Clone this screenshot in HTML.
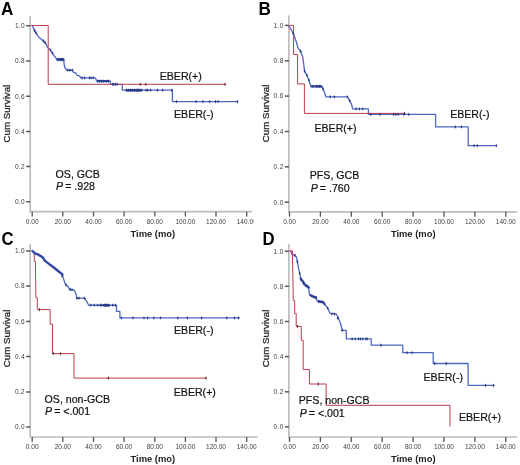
<!DOCTYPE html>
<html><head><meta charset="utf-8"><style>
html,body{margin:0;padding:0;background:#fff;width:520px;height:465px;overflow:hidden}
svg{display:block;filter:blur(0.5px)}
text{font-family:"Liberation Sans", sans-serif}
</style></head><body>
<svg width="520" height="465" viewBox="0 0 520 465">
<rect width="520" height="465" fill="#fff"/>
<defs>
<clipPath id="cA"><rect x="0" y="0" width="253.5" height="240"/></clipPath>
<clipPath id="cC"><rect x="0" y="232" width="258.5" height="233"/></clipPath>
</defs>

<g id="pA" clip-path="url(#cA)">
<text transform="translate(1.0,14.7) scale(0.95,1)" font-size="18" font-weight="bold" fill="#000">A</text>
<line x1="30.2" y1="16.2" x2="30.2" y2="211.7" stroke="#bcbcbc" stroke-width="1.7"/>
<line x1="29.5" y1="211.7" x2="251.9" y2="211.7" stroke="#bcbcbc" stroke-width="1.7"/>
<line x1="26.2" y1="201.8" x2="30.2" y2="201.8" stroke="#555" stroke-width="1.5"/>
<text x="25.0" y="204.1" font-size="6.5" letter-spacing="0.35" fill="#404040" text-anchor="end">0.0</text>
<line x1="26.2" y1="166.6" x2="30.2" y2="166.6" stroke="#555" stroke-width="1.5"/>
<text x="25.0" y="168.9" font-size="6.5" letter-spacing="0.35" fill="#404040" text-anchor="end">0.2</text>
<line x1="26.2" y1="131.4" x2="30.2" y2="131.4" stroke="#555" stroke-width="1.5"/>
<text x="25.0" y="133.7" font-size="6.5" letter-spacing="0.35" fill="#404040" text-anchor="end">0.4</text>
<line x1="26.2" y1="96.2" x2="30.2" y2="96.2" stroke="#555" stroke-width="1.5"/>
<text x="25.0" y="98.5" font-size="6.5" letter-spacing="0.35" fill="#404040" text-anchor="end">0.6</text>
<line x1="26.2" y1="61.0" x2="30.2" y2="61.0" stroke="#555" stroke-width="1.5"/>
<text x="25.0" y="63.3" font-size="6.5" letter-spacing="0.35" fill="#404040" text-anchor="end">0.8</text>
<line x1="26.2" y1="25.8" x2="30.2" y2="25.8" stroke="#555" stroke-width="1.5"/>
<text x="25.0" y="28.1" font-size="6.5" letter-spacing="0.35" fill="#404040" text-anchor="end">1.0</text>
<line x1="32.2" y1="211.7" x2="32.2" y2="216.6" stroke="#555" stroke-width="1.3"/>
<text x="32.2" y="223.6" font-size="6.5" fill="#404040" text-anchor="middle">0.00</text>
<line x1="62.8" y1="211.7" x2="62.8" y2="216.6" stroke="#555" stroke-width="1.3"/>
<text x="62.8" y="223.6" font-size="6.5" fill="#404040" text-anchor="middle">20.00</text>
<line x1="93.5" y1="211.7" x2="93.5" y2="216.6" stroke="#555" stroke-width="1.3"/>
<text x="93.5" y="223.6" font-size="6.5" fill="#404040" text-anchor="middle">40.00</text>
<line x1="124.1" y1="211.7" x2="124.1" y2="216.6" stroke="#555" stroke-width="1.3"/>
<text x="124.1" y="223.6" font-size="6.5" fill="#404040" text-anchor="middle">60.00</text>
<line x1="154.8" y1="211.7" x2="154.8" y2="216.6" stroke="#555" stroke-width="1.3"/>
<text x="154.8" y="223.6" font-size="6.5" fill="#404040" text-anchor="middle">80.00</text>
<line x1="185.4" y1="211.7" x2="185.4" y2="216.6" stroke="#555" stroke-width="1.3"/>
<text x="185.4" y="223.6" font-size="6.5" fill="#404040" text-anchor="middle">100.00</text>
<line x1="216.0" y1="211.7" x2="216.0" y2="216.6" stroke="#555" stroke-width="1.3"/>
<text x="216.0" y="223.6" font-size="6.5" fill="#404040" text-anchor="middle">120.00</text>
<line x1="246.7" y1="211.7" x2="246.7" y2="216.6" stroke="#555" stroke-width="1.3"/>
<text x="246.7" y="223.6" font-size="6.5" fill="#404040" text-anchor="middle">140.00</text>
<text x="152.8" y="236.5" font-size="9.4" font-weight="bold" fill="#222" text-anchor="middle">Time (mo)</text>
<text transform="translate(9.5,113.6) rotate(-90)" x="0" y="0" font-size="9.7" fill="#2a2a2a" stroke="#2a2a2a" stroke-width="0.3" text-anchor="middle">Cum Survival</text>
<polyline points="32.2,25.2 33.9,29.3 36.0,32.8 38.6,37.1 43.3,40.9 45.5,43.1 47.6,47.4 50.2,50.0 52.4,53.4 55.0,56.8 57.0,59.5 63.8,59.5 64.2,65.0 65.3,68.5 66.6,70.2 72.6,70.2 73.5,72.4 76.0,73.2 77.0,75.4 79.5,75.8 80.8,77.9 95.6,77.9 96.5,81.1 110.4,81.1 110.6,84.3 122.3,84.3 122.3,90.2 172.4,90.2 172.4,101.6 237.6,101.6" fill="none" stroke="#4d68c4" stroke-width="1.3" stroke-linejoin="round"/>
<polyline points="30.9,25.5 48.2,25.5 48.2,84.3 225.0,84.3" fill="none" stroke="#bb3c4c" stroke-width="1.0"/>
<polyline points="57.5,59.5 63.3,59.5" fill="none" stroke="#3347a4" stroke-width="2.4" stroke-linejoin="round" stroke-linecap="round"/>
<polyline points="126.5,90.2 141.5,90.2" fill="none" stroke="#3347a4" stroke-width="2.4" stroke-linejoin="round" stroke-linecap="round"/>
<polyline points="98.0,81.1 108.5,81.1" fill="none" stroke="#3347a4" stroke-width="2.4" stroke-linejoin="round" stroke-linecap="round"/>
<path d="M140.2,82.4L141.1,84.3L140.2,86.2L139.3,84.3Z" fill="#6a2a38"/>
<path d="M145.8,82.4L146.7,84.3L145.8,86.2L144.9,84.3Z" fill="#6a2a38"/>
<path d="M225.0,82.4L225.9,84.3L225.0,86.2L224.1,84.3Z" fill="#6a2a38"/>
<path d="M34.5,28.6L35.4,30.5L34.5,32.4L33.6,30.5Z" fill="#2c3a86"/>
<path d="M36.0,30.9L36.9,32.8L36.0,34.7L35.1,32.8Z" fill="#2c3a86"/>
<path d="M43.5,39.1L44.4,41.0L43.5,42.9L42.6,41.0Z" fill="#2c3a86"/>
<path d="M45.0,40.6L45.9,42.5L45.0,44.4L44.1,42.5Z" fill="#2c3a86"/>
<path d="M50.5,48.1L51.4,50.0L50.5,51.9L49.6,50.0Z" fill="#2c3a86"/>
<path d="M52.5,51.1L53.4,53.0L52.5,54.9L51.6,53.0Z" fill="#2c3a86"/>
<path d="M58.0,57.6L58.9,59.5L58.0,61.4L57.1,59.5Z" fill="#2c3a86"/>
<path d="M60.0,57.6L60.9,59.5L60.0,61.4L59.1,59.5Z" fill="#2c3a86"/>
<path d="M61.5,57.6L62.4,59.5L61.5,61.4L60.6,59.5Z" fill="#2c3a86"/>
<path d="M63.0,57.6L63.9,59.5L63.0,61.4L62.1,59.5Z" fill="#2c3a86"/>
<path d="M67.9,68.3L68.8,70.2L67.9,72.1L67.0,70.2Z" fill="#2c3a86"/>
<path d="M70.0,68.3L70.9,70.2L70.0,72.1L69.1,70.2Z" fill="#2c3a86"/>
<path d="M72.2,68.3L73.1,70.2L72.2,72.1L71.3,70.2Z" fill="#2c3a86"/>
<path d="M82.1,76.0L83.0,77.9L82.1,79.8L81.2,77.9Z" fill="#2c3a86"/>
<path d="M84.7,76.0L85.6,77.9L84.7,79.8L83.8,77.9Z" fill="#2c3a86"/>
<path d="M89.4,76.0L90.3,77.9L89.4,79.8L88.5,77.9Z" fill="#2c3a86"/>
<path d="M91.1,76.0L92.0,77.9L91.1,79.8L90.2,77.9Z" fill="#2c3a86"/>
<path d="M93.3,76.0L94.2,77.9L93.3,79.8L92.4,77.9Z" fill="#2c3a86"/>
<path d="M97.7,79.2L98.6,81.1L97.7,83.0L96.8,81.1Z" fill="#2c3a86"/>
<path d="M99.6,79.2L100.5,81.1L99.6,83.0L98.7,81.1Z" fill="#2c3a86"/>
<path d="M101.5,79.2L102.4,81.1L101.5,83.0L100.6,81.1Z" fill="#2c3a86"/>
<path d="M103.8,79.2L104.7,81.1L103.8,83.0L102.9,81.1Z" fill="#2c3a86"/>
<path d="M106.2,79.2L107.1,81.1L106.2,83.0L105.3,81.1Z" fill="#2c3a86"/>
<path d="M108.5,79.2L109.4,81.1L108.5,83.0L107.6,81.1Z" fill="#2c3a86"/>
<path d="M112.7,82.4L113.6,84.3L112.7,86.2L111.8,84.3Z" fill="#2c3a86"/>
<path d="M113.8,82.4L114.7,84.3L113.8,86.2L112.9,84.3Z" fill="#2c3a86"/>
<path d="M115.4,82.4L116.3,84.3L115.4,86.2L114.5,84.3Z" fill="#2c3a86"/>
<path d="M117.0,82.4L117.9,84.3L117.0,86.2L116.1,84.3Z" fill="#2c3a86"/>
<path d="M126.9,88.3L127.8,90.2L126.9,92.1L126.0,90.2Z" fill="#2c3a86"/>
<path d="M128.7,88.3L129.6,90.2L128.7,92.1L127.8,90.2Z" fill="#2c3a86"/>
<path d="M130.4,88.3L131.3,90.2L130.4,92.1L129.5,90.2Z" fill="#2c3a86"/>
<path d="M132.1,88.3L133.0,90.2L132.1,92.1L131.2,90.2Z" fill="#2c3a86"/>
<path d="M134.4,88.3L135.3,90.2L134.4,92.1L133.5,90.2Z" fill="#2c3a86"/>
<path d="M136.1,88.3L137.0,90.2L136.1,92.1L135.2,90.2Z" fill="#2c3a86"/>
<path d="M137.3,88.3L138.2,90.2L137.3,92.1L136.4,90.2Z" fill="#2c3a86"/>
<path d="M138.5,88.3L139.4,90.2L138.5,92.1L137.6,90.2Z" fill="#2c3a86"/>
<path d="M139.6,88.3L140.5,90.2L139.6,92.1L138.7,90.2Z" fill="#2c3a86"/>
<path d="M141.3,88.3L142.2,90.2L141.3,92.1L140.4,90.2Z" fill="#2c3a86"/>
<path d="M146.0,88.3L146.9,90.2L146.0,92.1L145.1,90.2Z" fill="#2c3a86"/>
<path d="M147.7,88.3L148.6,90.2L147.7,92.1L146.8,90.2Z" fill="#2c3a86"/>
<path d="M150.6,88.3L151.5,90.2L150.6,92.1L149.7,90.2Z" fill="#2c3a86"/>
<path d="M157.5,88.3L158.4,90.2L157.5,92.1L156.6,90.2Z" fill="#2c3a86"/>
<path d="M162.7,88.3L163.6,90.2L162.7,92.1L161.8,90.2Z" fill="#2c3a86"/>
<path d="M171.9,88.3L172.8,90.2L171.9,92.1L171.0,90.2Z" fill="#2c3a86"/>
<path d="M176.4,99.7L177.3,101.6L176.4,103.5L175.5,101.6Z" fill="#2c3a86"/>
<path d="M196.1,99.7L197.0,101.6L196.1,103.5L195.2,101.6Z" fill="#2c3a86"/>
<path d="M202.9,99.7L203.8,101.6L202.9,103.5L202.0,101.6Z" fill="#2c3a86"/>
<path d="M209.7,99.7L210.6,101.6L209.7,103.5L208.8,101.6Z" fill="#2c3a86"/>
<path d="M215.6,99.7L216.5,101.6L215.6,103.5L214.7,101.6Z" fill="#2c3a86"/>
<path d="M218.1,99.7L219.0,101.6L218.1,103.5L217.2,101.6Z" fill="#2c3a86"/>
<path d="M237.4,99.7L238.3,101.6L237.4,103.5L236.5,101.6Z" fill="#2c3a86"/>
<text x="159.71" y="80.10" font-size="10.6" fill="#111" stroke="#111" stroke-width="0.2">EBER(+)</text>
<text x="174.01" y="117.90" font-size="10.6" fill="#111" stroke="#111" stroke-width="0.2">EBER(-)</text>
<text x="55.60" y="177.60" font-size="10.6" fill="#111" stroke="#111" stroke-width="0.2">OS, GCB</text>
<text x="55.40" y="189.80" font-size="10.6" fill="#111" stroke="#111" stroke-width="0.2"><tspan font-style="italic" dx="0.7">P</tspan><tspan dx="-0.9"> = .928</tspan></text>
</g>
<g id="pB">
<text transform="translate(258.5,14.8) scale(0.95,1)" font-size="18" font-weight="bold" fill="#000">B</text>
<line x1="288.9" y1="15.4" x2="288.9" y2="211.8" stroke="#bcbcbc" stroke-width="1.7"/>
<line x1="288.2" y1="211.8" x2="516.9" y2="211.8" stroke="#bcbcbc" stroke-width="1.7"/>
<line x1="284.9" y1="202.2" x2="288.9" y2="202.2" stroke="#555" stroke-width="1.5"/>
<text x="283.7" y="204.5" font-size="6.5" letter-spacing="0.35" fill="#404040" text-anchor="end">0.0</text>
<line x1="284.9" y1="166.8" x2="288.9" y2="166.8" stroke="#555" stroke-width="1.5"/>
<text x="283.7" y="169.1" font-size="6.5" letter-spacing="0.35" fill="#404040" text-anchor="end">0.2</text>
<line x1="284.9" y1="131.5" x2="288.9" y2="131.5" stroke="#555" stroke-width="1.5"/>
<text x="283.7" y="133.8" font-size="6.5" letter-spacing="0.35" fill="#404040" text-anchor="end">0.4</text>
<line x1="284.9" y1="96.1" x2="288.9" y2="96.1" stroke="#555" stroke-width="1.5"/>
<text x="283.7" y="98.4" font-size="6.5" letter-spacing="0.35" fill="#404040" text-anchor="end">0.6</text>
<line x1="284.9" y1="60.8" x2="288.9" y2="60.8" stroke="#555" stroke-width="1.5"/>
<text x="283.7" y="63.1" font-size="6.5" letter-spacing="0.35" fill="#404040" text-anchor="end">0.8</text>
<line x1="284.9" y1="25.4" x2="288.9" y2="25.4" stroke="#555" stroke-width="1.5"/>
<text x="283.7" y="27.7" font-size="6.5" letter-spacing="0.35" fill="#404040" text-anchor="end">1.0</text>
<line x1="289.5" y1="211.8" x2="289.5" y2="216.70000000000002" stroke="#555" stroke-width="1.3"/>
<text x="289.5" y="223.6" font-size="6.5" fill="#404040" text-anchor="middle">0.00</text>
<line x1="320.4" y1="211.8" x2="320.4" y2="216.70000000000002" stroke="#555" stroke-width="1.3"/>
<text x="320.4" y="223.6" font-size="6.5" fill="#404040" text-anchor="middle">20.00</text>
<line x1="351.3" y1="211.8" x2="351.3" y2="216.70000000000002" stroke="#555" stroke-width="1.3"/>
<text x="351.3" y="223.6" font-size="6.5" fill="#404040" text-anchor="middle">40.00</text>
<line x1="382.2" y1="211.8" x2="382.2" y2="216.70000000000002" stroke="#555" stroke-width="1.3"/>
<text x="382.2" y="223.6" font-size="6.5" fill="#404040" text-anchor="middle">60.00</text>
<line x1="413.1" y1="211.8" x2="413.1" y2="216.70000000000002" stroke="#555" stroke-width="1.3"/>
<text x="413.1" y="223.6" font-size="6.5" fill="#404040" text-anchor="middle">80.00</text>
<line x1="444.0" y1="211.8" x2="444.0" y2="216.70000000000002" stroke="#555" stroke-width="1.3"/>
<text x="444.0" y="223.6" font-size="6.5" fill="#404040" text-anchor="middle">100.00</text>
<line x1="474.9" y1="211.8" x2="474.9" y2="216.70000000000002" stroke="#555" stroke-width="1.3"/>
<text x="474.9" y="223.6" font-size="6.5" fill="#404040" text-anchor="middle">120.00</text>
<line x1="505.8" y1="211.8" x2="505.8" y2="216.70000000000002" stroke="#555" stroke-width="1.3"/>
<text x="505.8" y="223.6" font-size="6.5" fill="#404040" text-anchor="middle">140.00</text>
<text x="413.2" y="236.5" font-size="9.4" font-weight="bold" fill="#222" text-anchor="middle">Time (mo)</text>
<text transform="translate(269.3,113.4) rotate(-90)" x="0" y="0" font-size="9.7" fill="#2a2a2a" stroke="#2a2a2a" stroke-width="0.3" text-anchor="middle">Cum Survival</text>
<polyline points="289.4,25.4 289.4,27.2 291.2,29.7 293.3,33.6 294.6,37.1 296.3,41.8 298.0,47.8 300.6,51.2 302.8,57.3 304.6,71.1 307.0,75.4 308.9,80.1 310.8,86.4 322.1,86.4 323.1,89.1 325.0,93.8 325.9,96.8 347.3,96.8 349.7,100.6 351.6,104.4 352.6,108.9 368.4,108.9 368.4,114.4 435.6,114.4 435.6,126.9 468.2,126.9 468.2,145.7 496.5,145.7" fill="none" stroke="#4d68c4" stroke-width="1.3" stroke-linejoin="round"/>
<polyline points="289.9,25.4 293.6,25.4 293.6,54.5 297.6,54.5 297.6,83.9 304.4,83.9 304.4,113.4 404.5,113.4" fill="none" stroke="#bb3c4c" stroke-width="1.0"/>
<polyline points="311.5,86.4 321.0,86.4" fill="none" stroke="#3347a4" stroke-width="2.4" stroke-linejoin="round" stroke-linecap="round"/>
<path d="M404.5,111.5L405.4,113.4L404.5,115.3L403.6,113.4Z" fill="#6a2a38"/>
<path d="M293.3,31.7L294.2,33.6L293.3,35.5L292.4,33.6Z" fill="#2c3a86"/>
<path d="M300.6,49.3L301.5,51.2L300.6,53.1L299.7,51.2Z" fill="#2c3a86"/>
<path d="M304.6,69.2L305.5,71.1L304.6,73.0L303.7,71.1Z" fill="#2c3a86"/>
<path d="M307.0,73.5L307.9,75.4L307.0,77.3L306.1,75.4Z" fill="#2c3a86"/>
<path d="M308.9,78.2L309.8,80.1L308.9,82.0L308.0,80.1Z" fill="#2c3a86"/>
<path d="M312.9,84.5L313.8,86.4L312.9,88.3L312.0,86.4Z" fill="#2c3a86"/>
<path d="M316.5,84.5L317.4,86.4L316.5,88.3L315.6,86.4Z" fill="#2c3a86"/>
<path d="M318.0,84.5L318.9,86.4L318.0,88.3L317.1,86.4Z" fill="#2c3a86"/>
<path d="M319.5,84.5L320.4,86.4L319.5,88.3L318.6,86.4Z" fill="#2c3a86"/>
<path d="M321.0,84.5L321.9,86.4L321.0,88.3L320.1,86.4Z" fill="#2c3a86"/>
<path d="M323.1,87.2L324.0,89.1L323.1,91.0L322.2,89.1Z" fill="#2c3a86"/>
<path d="M330.2,94.9L331.1,96.8L330.2,98.7L329.3,96.8Z" fill="#2c3a86"/>
<path d="M334.4,94.9L335.3,96.8L334.4,98.7L333.5,96.8Z" fill="#2c3a86"/>
<path d="M347.3,94.9L348.2,96.8L347.3,98.7L346.4,96.8Z" fill="#2c3a86"/>
<path d="M349.7,98.7L350.6,100.6L349.7,102.5L348.8,100.6Z" fill="#2c3a86"/>
<path d="M356.0,107.0L356.9,108.9L356.0,110.8L355.1,108.9Z" fill="#2c3a86"/>
<path d="M359.3,107.0L360.2,108.9L359.3,110.8L358.4,108.9Z" fill="#2c3a86"/>
<path d="M362.7,107.0L363.6,108.9L362.7,110.8L361.8,108.9Z" fill="#2c3a86"/>
<path d="M370.8,112.5L371.7,114.4L370.8,116.3L369.9,114.4Z" fill="#2c3a86"/>
<path d="M379.9,112.5L380.8,114.4L379.9,116.3L379.0,114.4Z" fill="#2c3a86"/>
<path d="M393.4,112.5L394.3,114.4L393.4,116.3L392.5,114.4Z" fill="#2c3a86"/>
<path d="M395.8,112.5L396.7,114.4L395.8,116.3L394.9,114.4Z" fill="#2c3a86"/>
<path d="M398.2,112.5L399.1,114.4L398.2,116.3L397.3,114.4Z" fill="#2c3a86"/>
<path d="M403.9,112.5L404.8,114.4L403.9,116.3L403.0,114.4Z" fill="#2c3a86"/>
<path d="M408.8,112.5L409.7,114.4L408.8,116.3L407.9,114.4Z" fill="#2c3a86"/>
<path d="M455.2,125.0L456.1,126.9L455.2,128.8L454.3,126.9Z" fill="#2c3a86"/>
<path d="M461.5,125.0L462.4,126.9L461.5,128.8L460.6,126.9Z" fill="#2c3a86"/>
<path d="M474.0,143.8L474.9,145.7L474.0,147.6L473.1,145.7Z" fill="#2c3a86"/>
<path d="M477.4,143.8L478.3,145.7L477.4,147.6L476.5,145.7Z" fill="#2c3a86"/>
<path d="M496.3,143.8L497.2,145.7L496.3,147.6L495.4,145.7Z" fill="#2c3a86"/>
<text x="450.16" y="118.20" font-size="10.6" fill="#111" stroke="#111" stroke-width="0.2">EBER(-)</text>
<text x="314.46" y="132.20" font-size="10.6" fill="#111" stroke="#111" stroke-width="0.2">EBER(+)</text>
<text x="309.80" y="179.30" font-size="10.6" fill="#111" stroke="#111" stroke-width="0.2">PFS, GCB</text>
<text x="310.00" y="191.80" font-size="10.6" fill="#111" stroke="#111" stroke-width="0.2"><tspan font-style="italic" dx="0.7">P</tspan><tspan dx="-0.9"> = .760</tspan></text>
</g>
<g id="pC" clip-path="url(#cC)">
<text transform="translate(1.5,244.7) scale(0.93,1)" font-size="18" font-weight="bold" fill="#000">C</text>
<line x1="30.2" y1="244.1" x2="30.2" y2="437.0" stroke="#bcbcbc" stroke-width="1.7"/>
<line x1="29.5" y1="437.0" x2="257.7" y2="437.0" stroke="#bcbcbc" stroke-width="1.7"/>
<line x1="26.2" y1="427.1" x2="30.2" y2="427.1" stroke="#555" stroke-width="1.5"/>
<text x="25.0" y="429.4" font-size="6.5" letter-spacing="0.35" fill="#404040" text-anchor="end">0.0</text>
<line x1="26.2" y1="391.9" x2="30.2" y2="391.9" stroke="#555" stroke-width="1.5"/>
<text x="25.0" y="394.2" font-size="6.5" letter-spacing="0.35" fill="#404040" text-anchor="end">0.2</text>
<line x1="26.2" y1="356.6" x2="30.2" y2="356.6" stroke="#555" stroke-width="1.5"/>
<text x="25.0" y="358.9" font-size="6.5" letter-spacing="0.35" fill="#404040" text-anchor="end">0.4</text>
<line x1="26.2" y1="321.4" x2="30.2" y2="321.4" stroke="#555" stroke-width="1.5"/>
<text x="25.0" y="323.7" font-size="6.5" letter-spacing="0.35" fill="#404040" text-anchor="end">0.6</text>
<line x1="26.2" y1="286.1" x2="30.2" y2="286.1" stroke="#555" stroke-width="1.5"/>
<text x="25.0" y="288.4" font-size="6.5" letter-spacing="0.35" fill="#404040" text-anchor="end">0.8</text>
<line x1="26.2" y1="250.9" x2="30.2" y2="250.9" stroke="#555" stroke-width="1.5"/>
<text x="25.0" y="253.2" font-size="6.5" letter-spacing="0.35" fill="#404040" text-anchor="end">1.0</text>
<line x1="32.2" y1="437.0" x2="32.2" y2="441.9" stroke="#555" stroke-width="1.3"/>
<text x="32.2" y="448.7" font-size="6.5" fill="#404040" text-anchor="middle">0.00</text>
<line x1="62.8" y1="437.0" x2="62.8" y2="441.9" stroke="#555" stroke-width="1.3"/>
<text x="62.8" y="448.7" font-size="6.5" fill="#404040" text-anchor="middle">20.00</text>
<line x1="93.5" y1="437.0" x2="93.5" y2="441.9" stroke="#555" stroke-width="1.3"/>
<text x="93.5" y="448.7" font-size="6.5" fill="#404040" text-anchor="middle">40.00</text>
<line x1="124.1" y1="437.0" x2="124.1" y2="441.9" stroke="#555" stroke-width="1.3"/>
<text x="124.1" y="448.7" font-size="6.5" fill="#404040" text-anchor="middle">60.00</text>
<line x1="154.8" y1="437.0" x2="154.8" y2="441.9" stroke="#555" stroke-width="1.3"/>
<text x="154.8" y="448.7" font-size="6.5" fill="#404040" text-anchor="middle">80.00</text>
<line x1="185.4" y1="437.0" x2="185.4" y2="441.9" stroke="#555" stroke-width="1.3"/>
<text x="185.4" y="448.7" font-size="6.5" fill="#404040" text-anchor="middle">100.00</text>
<line x1="216.0" y1="437.0" x2="216.0" y2="441.9" stroke="#555" stroke-width="1.3"/>
<text x="216.0" y="448.7" font-size="6.5" fill="#404040" text-anchor="middle">120.00</text>
<line x1="246.7" y1="437.0" x2="246.7" y2="441.9" stroke="#555" stroke-width="1.3"/>
<text x="246.7" y="448.7" font-size="6.5" fill="#404040" text-anchor="middle">140.00</text>
<text x="152.8" y="461.8" font-size="9.4" font-weight="bold" fill="#222" text-anchor="middle">Time (mo)</text>
<text transform="translate(9.5,338.4) rotate(-90)" x="0" y="0" font-size="9.7" fill="#2a2a2a" stroke="#2a2a2a" stroke-width="0.3" text-anchor="middle">Cum Survival</text>
<polyline points="31.9,250.4 34.9,253.3 38.3,254.6 42.6,257.2 44.8,260.6 48.6,263.6 53.8,267.5 58.1,271.0 62.4,274.4 63.6,278.9 65.2,284.0 67.7,286.2 69.5,289.2 74.2,290.1 75.9,293.5 76.8,298.2 84.5,298.2 86.7,301.7 88.8,305.2 116.5,305.2 116.5,311.4 119.9,311.4 119.9,317.9 239.8,317.9" fill="none" stroke="#4d68c4" stroke-width="1.3" stroke-linejoin="round"/>
<polyline points="31.5,250.6 34.3,252.2 34.3,261.5 35.4,261.5 35.9,297.7 37.3,297.7 37.3,309.6 50.2,309.6 50.2,324.2 52.6,324.2 52.6,353.6 74.0,353.6 74.0,378.1 206.3,378.1" fill="none" stroke="#bb3c4c" stroke-width="1.0"/>
<polyline points="32.5,251.0 34.9,253.3 38.3,254.6 42.6,257.2 44.8,260.6 48.6,263.6 53.8,267.5 58.1,271.0 62.4,274.4" fill="none" stroke="#3347a4" stroke-width="2.4" stroke-linejoin="round" stroke-linecap="round"/>
<polyline points="103.8,305.2 109.0,305.2" fill="none" stroke="#3347a4" stroke-width="2.4" stroke-linejoin="round" stroke-linecap="round"/>
<path d="M39.5,307.7L40.4,309.6L39.5,311.5L38.6,309.6Z" fill="#6a2a38"/>
<path d="M53.2,351.7L54.1,353.6L53.2,355.5L52.3,353.6Z" fill="#6a2a38"/>
<path d="M60.5,351.7L61.4,353.6L60.5,355.5L59.6,353.6Z" fill="#6a2a38"/>
<path d="M108.3,376.2L109.2,378.1L108.3,380.0L107.4,378.1Z" fill="#6a2a38"/>
<path d="M206.0,376.2L206.9,378.1L206.0,380.0L205.1,378.1Z" fill="#6a2a38"/>
<path d="M62.0,274.1L62.9,276.0L62.0,277.9L61.1,276.0Z" fill="#2c3a86"/>
<path d="M66.0,283.1L66.9,285.0L66.0,286.9L65.1,285.0Z" fill="#2c3a86"/>
<path d="M70.0,287.6L70.9,289.5L70.0,291.4L69.1,289.5Z" fill="#2c3a86"/>
<path d="M72.0,287.9L72.9,289.8L72.0,291.7L71.1,289.8Z" fill="#2c3a86"/>
<path d="M77.0,296.3L77.9,298.2L77.0,300.1L76.1,298.2Z" fill="#2c3a86"/>
<path d="M79.0,296.3L79.9,298.2L79.0,300.1L78.1,298.2Z" fill="#2c3a86"/>
<path d="M84.5,296.3L85.4,298.2L84.5,300.1L83.6,298.2Z" fill="#2c3a86"/>
<path d="M90.7,303.3L91.6,305.2L90.7,307.1L89.8,305.2Z" fill="#2c3a86"/>
<path d="M94.2,303.3L95.1,305.2L94.2,307.1L93.3,305.2Z" fill="#2c3a86"/>
<path d="M97.6,303.3L98.5,305.2L97.6,307.1L96.7,305.2Z" fill="#2c3a86"/>
<path d="M100.3,303.3L101.2,305.2L100.3,307.1L99.4,305.2Z" fill="#2c3a86"/>
<path d="M101.8,303.3L102.7,305.2L101.8,307.1L100.9,305.2Z" fill="#2c3a86"/>
<path d="M104.2,303.3L105.1,305.2L104.2,307.1L103.3,305.2Z" fill="#2c3a86"/>
<path d="M105.5,303.3L106.4,305.2L105.5,307.1L104.6,305.2Z" fill="#2c3a86"/>
<path d="M106.8,303.3L107.7,305.2L106.8,307.1L105.9,305.2Z" fill="#2c3a86"/>
<path d="M108.0,303.3L108.9,305.2L108.0,307.1L107.1,305.2Z" fill="#2c3a86"/>
<path d="M108.8,303.3L109.7,305.2L108.8,307.1L107.9,305.2Z" fill="#2c3a86"/>
<path d="M112.6,303.3L113.5,305.2L112.6,307.1L111.7,305.2Z" fill="#2c3a86"/>
<path d="M115.3,303.3L116.2,305.2L115.3,307.1L114.4,305.2Z" fill="#2c3a86"/>
<path d="M121.5,316.0L122.4,317.9L121.5,319.8L120.6,317.9Z" fill="#2c3a86"/>
<path d="M133.0,316.0L133.9,317.9L133.0,319.8L132.1,317.9Z" fill="#2c3a86"/>
<path d="M144.0,316.0L144.9,317.9L144.0,319.8L143.1,317.9Z" fill="#2c3a86"/>
<path d="M147.5,316.0L148.4,317.9L147.5,319.8L146.6,317.9Z" fill="#2c3a86"/>
<path d="M153.8,316.0L154.7,317.9L153.8,319.8L152.9,317.9Z" fill="#2c3a86"/>
<path d="M160.5,316.0L161.4,317.9L160.5,319.8L159.6,317.9Z" fill="#2c3a86"/>
<path d="M177.8,316.0L178.7,317.9L177.8,319.8L176.9,317.9Z" fill="#2c3a86"/>
<path d="M187.3,316.0L188.2,317.9L187.3,319.8L186.4,317.9Z" fill="#2c3a86"/>
<path d="M201.7,316.0L202.6,317.9L201.7,319.8L200.8,317.9Z" fill="#2c3a86"/>
<path d="M226.8,316.0L227.7,317.9L226.8,319.8L225.9,317.9Z" fill="#2c3a86"/>
<path d="M234.6,316.0L235.5,317.9L234.6,319.8L233.7,317.9Z" fill="#2c3a86"/>
<path d="M238.4,316.0L239.3,317.9L238.4,319.8L237.5,317.9Z" fill="#2c3a86"/>
<text x="174.01" y="334.40" font-size="10.6" fill="#111" stroke="#111" stroke-width="0.2">EBER(-)</text>
<text x="173.76" y="396.20" font-size="10.6" fill="#111" stroke="#111" stroke-width="0.2">EBER(+)</text>
<text x="44.60" y="402.80" font-size="10.6" fill="#111" stroke="#111" stroke-width="0.2">OS, non-GCB</text>
<text x="44.40" y="415.00" font-size="10.6" fill="#111" stroke="#111" stroke-width="0.2"><tspan font-style="italic" dx="0.7">P</tspan><tspan dx="-0.9"> = <.001</tspan></text>
</g>
<g id="pD">
<text transform="translate(262.6,244.6) scale(0.93,1)" font-size="18" font-weight="bold" fill="#000">D</text>
<line x1="288.9" y1="244.2" x2="288.9" y2="437.0" stroke="#bcbcbc" stroke-width="1.7"/>
<line x1="288.2" y1="437.0" x2="517.0" y2="437.0" stroke="#bcbcbc" stroke-width="1.7"/>
<line x1="284.9" y1="426.9" x2="288.9" y2="426.9" stroke="#555" stroke-width="1.5"/>
<text x="283.7" y="429.2" font-size="6.5" letter-spacing="0.35" fill="#404040" text-anchor="end">0.0</text>
<line x1="284.9" y1="391.8" x2="288.9" y2="391.8" stroke="#555" stroke-width="1.5"/>
<text x="283.7" y="394.1" font-size="6.5" letter-spacing="0.35" fill="#404040" text-anchor="end">0.2</text>
<line x1="284.9" y1="356.6" x2="288.9" y2="356.6" stroke="#555" stroke-width="1.5"/>
<text x="283.7" y="358.9" font-size="6.5" letter-spacing="0.35" fill="#404040" text-anchor="end">0.4</text>
<line x1="284.9" y1="321.5" x2="288.9" y2="321.5" stroke="#555" stroke-width="1.5"/>
<text x="283.7" y="323.8" font-size="6.5" letter-spacing="0.35" fill="#404040" text-anchor="end">0.6</text>
<line x1="284.9" y1="286.3" x2="288.9" y2="286.3" stroke="#555" stroke-width="1.5"/>
<text x="283.7" y="288.6" font-size="6.5" letter-spacing="0.35" fill="#404040" text-anchor="end">0.8</text>
<line x1="284.9" y1="251.2" x2="288.9" y2="251.2" stroke="#555" stroke-width="1.5"/>
<text x="283.7" y="253.5" font-size="6.5" letter-spacing="0.35" fill="#404040" text-anchor="end">1.0</text>
<line x1="289.5" y1="437.0" x2="289.5" y2="441.9" stroke="#555" stroke-width="1.3"/>
<text x="289.5" y="448.7" font-size="6.5" fill="#404040" text-anchor="middle">0.00</text>
<line x1="320.4" y1="437.0" x2="320.4" y2="441.9" stroke="#555" stroke-width="1.3"/>
<text x="320.4" y="448.7" font-size="6.5" fill="#404040" text-anchor="middle">20.00</text>
<line x1="351.3" y1="437.0" x2="351.3" y2="441.9" stroke="#555" stroke-width="1.3"/>
<text x="351.3" y="448.7" font-size="6.5" fill="#404040" text-anchor="middle">40.00</text>
<line x1="382.2" y1="437.0" x2="382.2" y2="441.9" stroke="#555" stroke-width="1.3"/>
<text x="382.2" y="448.7" font-size="6.5" fill="#404040" text-anchor="middle">60.00</text>
<line x1="413.1" y1="437.0" x2="413.1" y2="441.9" stroke="#555" stroke-width="1.3"/>
<text x="413.1" y="448.7" font-size="6.5" fill="#404040" text-anchor="middle">80.00</text>
<line x1="444.0" y1="437.0" x2="444.0" y2="441.9" stroke="#555" stroke-width="1.3"/>
<text x="444.0" y="448.7" font-size="6.5" fill="#404040" text-anchor="middle">100.00</text>
<line x1="474.9" y1="437.0" x2="474.9" y2="441.9" stroke="#555" stroke-width="1.3"/>
<text x="474.9" y="448.7" font-size="6.5" fill="#404040" text-anchor="middle">120.00</text>
<line x1="505.8" y1="437.0" x2="505.8" y2="441.9" stroke="#555" stroke-width="1.3"/>
<text x="505.8" y="448.7" font-size="6.5" fill="#404040" text-anchor="middle">140.00</text>
<text x="413.2" y="461.8" font-size="9.4" font-weight="bold" fill="#222" text-anchor="middle">Time (mo)</text>
<text transform="translate(269.3,338.4) rotate(-90)" x="0" y="0" font-size="9.7" fill="#2a2a2a" stroke="#2a2a2a" stroke-width="0.3" text-anchor="middle">Cum Survival</text>
<polyline points="289.6,250.8 290.7,250.8 292.1,254.5 294.5,255.0 296.4,256.9 297.4,261.6 298.8,269.7 299.7,273.4 300.7,278.6 303.5,282.4 304.3,284.3 308.7,287.4 309.5,294.7 313.0,296.5 316.0,297.7 317.3,301.2 322.9,302.1 325.1,304.7 327.7,308.1 329.9,313.3 336.4,314.2 338.5,318.1 340.2,322.8 341.3,326.2 342.1,330.3 346.3,330.3 346.3,338.9 371.2,338.9 371.2,345.2 402.8,345.2 402.8,352.7 433.2,352.7 433.2,363.5 468.1,363.5 468.1,385.4 494.3,385.4" fill="none" stroke="#4d68c4" stroke-width="1.3" stroke-linejoin="round"/>
<polyline points="289.9,250.9 292.4,250.9 292.4,251.0 293.3,300.6 294.7,300.6 294.7,313.5 296.2,313.5 296.2,326.4 301.3,326.4 301.3,340.3 303.2,340.3 303.2,369.5 309.4,369.5 309.4,384.0 326.1,384.0 326.1,405.3 450.0,405.3 450.0,426.6" fill="none" stroke="#bb3c4c" stroke-width="1.0"/>
<polyline points="300.7,278.6 303.5,282.4 304.3,284.3 308.7,287.4" fill="none" stroke="#3347a4" stroke-width="2.4" stroke-linejoin="round" stroke-linecap="round"/>
<polyline points="310.5,295.2 313.0,296.5 316.0,297.7" fill="none" stroke="#3347a4" stroke-width="2.4" stroke-linejoin="round" stroke-linecap="round"/>
<polyline points="318.5,301.4 322.9,302.1 324.5,304.0" fill="none" stroke="#3347a4" stroke-width="2.4" stroke-linejoin="round" stroke-linecap="round"/>
<path d="M297.5,324.5L298.4,326.4L297.5,328.3L296.6,326.4Z" fill="#6a2a38"/>
<path d="M318.2,382.1L319.1,384.0L318.2,385.9L317.3,384.0Z" fill="#6a2a38"/>
<path d="M295.0,253.6L295.9,255.5L295.0,257.4L294.1,255.5Z" fill="#2c3a86"/>
<path d="M297.4,259.7L298.3,261.6L297.4,263.5L296.5,261.6Z" fill="#2c3a86"/>
<path d="M299.7,271.5L300.6,273.4L299.7,275.3L298.8,273.4Z" fill="#2c3a86"/>
<path d="M301.0,277.6L301.9,279.5L301.0,281.4L300.1,279.5Z" fill="#2c3a86"/>
<path d="M303.5,280.5L304.4,282.4L303.5,284.3L302.6,282.4Z" fill="#2c3a86"/>
<path d="M306.0,283.6L306.9,285.5L306.0,287.4L305.1,285.5Z" fill="#2c3a86"/>
<path d="M308.0,285.1L308.9,287.0L308.0,288.9L307.1,287.0Z" fill="#2c3a86"/>
<path d="M312.0,294.1L312.9,296.0L312.0,297.9L311.1,296.0Z" fill="#2c3a86"/>
<path d="M314.0,294.9L314.9,296.8L314.0,298.7L313.1,296.8Z" fill="#2c3a86"/>
<path d="M316.0,295.8L316.9,297.7L316.0,299.6L315.1,297.7Z" fill="#2c3a86"/>
<path d="M319.0,299.6L319.9,301.5L319.0,303.4L318.1,301.5Z" fill="#2c3a86"/>
<path d="M321.0,299.9L321.9,301.8L321.0,303.7L320.1,301.8Z" fill="#2c3a86"/>
<path d="M323.0,300.2L323.9,302.1L323.0,304.0L322.1,302.1Z" fill="#2c3a86"/>
<path d="M327.7,306.2L328.6,308.1L327.7,310.0L326.8,308.1Z" fill="#2c3a86"/>
<path d="M332.0,311.9L332.9,313.8L332.0,315.7L331.1,313.8Z" fill="#2c3a86"/>
<path d="M334.5,312.1L335.4,314.0L334.5,315.9L333.6,314.0Z" fill="#2c3a86"/>
<path d="M337.8,316.3L338.7,318.2L337.8,320.1L336.9,318.2Z" fill="#2c3a86"/>
<path d="M342.3,328.4L343.2,330.3L342.3,332.2L341.4,330.3Z" fill="#2c3a86"/>
<path d="M352.1,337.0L353.0,338.9L352.1,340.8L351.2,338.9Z" fill="#2c3a86"/>
<path d="M355.2,337.0L356.1,338.9L355.2,340.8L354.3,338.9Z" fill="#2c3a86"/>
<path d="M358.6,337.0L359.5,338.9L358.6,340.8L357.7,338.9Z" fill="#2c3a86"/>
<path d="M360.5,337.0L361.4,338.9L360.5,340.8L359.6,338.9Z" fill="#2c3a86"/>
<path d="M362.8,337.0L363.7,338.9L362.8,340.8L361.9,338.9Z" fill="#2c3a86"/>
<path d="M365.9,337.0L366.8,338.9L365.9,340.8L365.0,338.9Z" fill="#2c3a86"/>
<path d="M367.1,337.0L368.0,338.9L367.1,340.8L366.2,338.9Z" fill="#2c3a86"/>
<path d="M380.9,343.3L381.8,345.2L380.9,347.1L380.0,345.2Z" fill="#2c3a86"/>
<path d="M407.0,350.8L407.9,352.7L407.0,354.6L406.1,352.7Z" fill="#2c3a86"/>
<path d="M411.9,350.8L412.8,352.7L411.9,354.6L411.0,352.7Z" fill="#2c3a86"/>
<path d="M434.8,361.6L435.7,363.5L434.8,365.4L433.9,363.5Z" fill="#2c3a86"/>
<path d="M446.2,361.6L447.1,363.5L446.2,365.4L445.3,363.5Z" fill="#2c3a86"/>
<path d="M485.5,383.5L486.4,385.4L485.5,387.3L484.6,385.4Z" fill="#2c3a86"/>
<path d="M493.6,383.5L494.5,385.4L493.6,387.3L492.7,385.4Z" fill="#2c3a86"/>
<text x="423.51" y="381.10" font-size="10.6" fill="#111" stroke="#111" stroke-width="0.2">EBER(-)</text>
<text x="458.96" y="420.80" font-size="10.6" fill="#111" stroke="#111" stroke-width="0.2">EBER(+)</text>
<text x="298.80" y="404.20" font-size="10.6" fill="#111" stroke="#111" stroke-width="0.2">PFS, non-GCB</text>
<text x="299.00" y="417.00" font-size="10.6" fill="#111" stroke="#111" stroke-width="0.2"><tspan font-style="italic" dx="0.7">P</tspan><tspan dx="-0.9"> = <.001</tspan></text>
</g>
</svg></body></html>
